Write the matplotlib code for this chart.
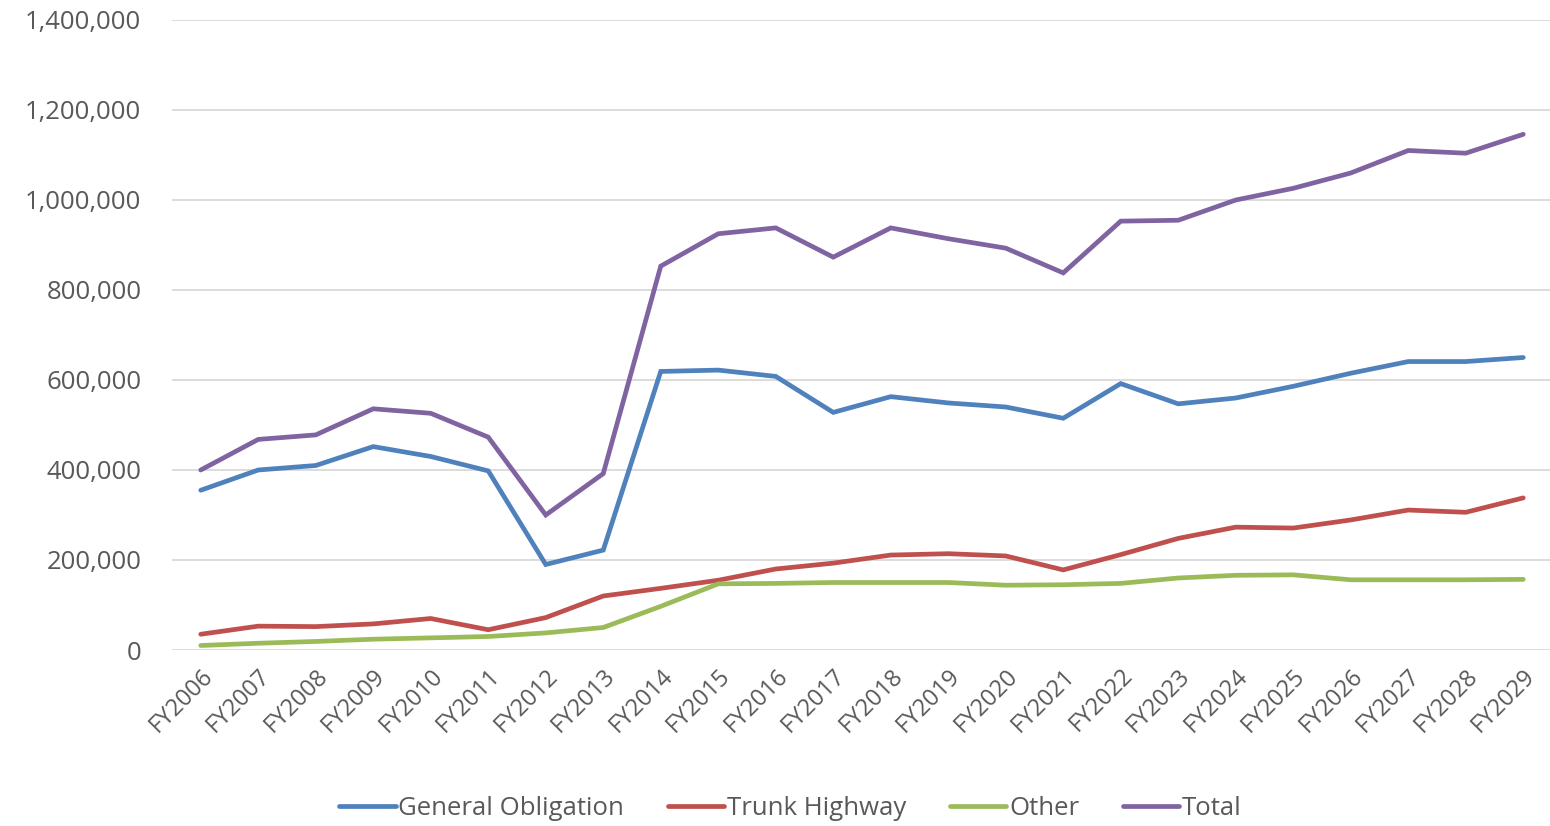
import matplotlib
matplotlib.use("Agg")
import matplotlib.pyplot as plt
from matplotlib.ticker import FuncFormatter

years = [f"FY{y}" for y in range(2006, 2030)]

general_obligation = [355000, 400000, 410000, 452000, 430000, 398000, 190000, 222000,
                      619000, 622000, 608000, 528000, 563000, 549000, 540000, 515000,
                      592000, 547000, 560000, 586000, 615000, 641000, 641000, 650000]
trunk_highway = [35000, 53000, 52000, 58000, 70000, 45000, 72000, 120000,
                 137000, 155000, 180000, 193000, 211000, 214000, 209000, 178000,
                 212000, 248000, 273000, 271000, 289000, 311000, 306000, 338000]
other = [10000, 15000, 19000, 24000, 27000, 30000, 38000, 50000,
         97000, 147000, 148000, 150000, 150000, 150000, 144000, 145000,
         148000, 160000, 166000, 167000, 156000, 156000, 156000, 157000]
total = [400000, 468000, 478000, 536000, 526000, 473000, 300000, 392000,
         853000, 925000, 938000, 873000, 938000, 914000, 893000, 838000,
         953000, 955000, 1000000, 1026000, 1060000, 1110000, 1104000, 1146000]

series = [
    ("General Obligation", general_obligation, "#4F81BD"),
    ("Trunk Highway", trunk_highway, "#C0504D"),
    ("Other", other, "#9BBB59"),
    ("Total", total, "#8064A2"),
]

plt.rcParams['font.family'] = ['Open Sans', 'DejaVu Sans']
text_color = "#595959"

fig = plt.figure(figsize=(15.5, 8.26), dpi=100)
ax = fig.add_axes([172 / 1550, 1 - 650 / 826, (1552 - 172) / 1550, (650 - 20) / 826])

x = list(range(len(years)))
for name, vals, color in series:
    ax.plot(x, vals, color=color, linewidth=3.4, label=name,
            solid_capstyle='round', solid_joinstyle='miter')

ax.set_xlim(-0.5, len(years) - 0.5)
ax.set_ylim(0, 1400000)
ax.set_yticks(range(0, 1400001, 200000))
ax.yaxis.set_major_formatter(FuncFormatter(lambda v, p: f"{int(v):,}"))
ax.set_xticks(x)
ax.set_xticklabels(years, rotation=45, ha='right', rotation_mode='anchor')

ax.grid(True, axis='y', color='#D9D9D9', linewidth=1.3)
ax.set_axisbelow(True)
for s in ax.spines.values():
    s.set_visible(False)
ax.tick_params(axis='y', length=0, labelsize=18.5, labelcolor=text_color, pad=22)
ax.tick_params(axis='x', length=0, labelsize=17, labelcolor=text_color, pad=10)

fig.legend(loc='lower center', bbox_to_anchor=(0.51, -0.022), ncol=4, frameon=False,
           fontsize=18.5, labelcolor=text_color, handlelength=2.2, handletextpad=0.1,
           columnspacing=1.7)

fig.savefig("out.png", dpi=100)
